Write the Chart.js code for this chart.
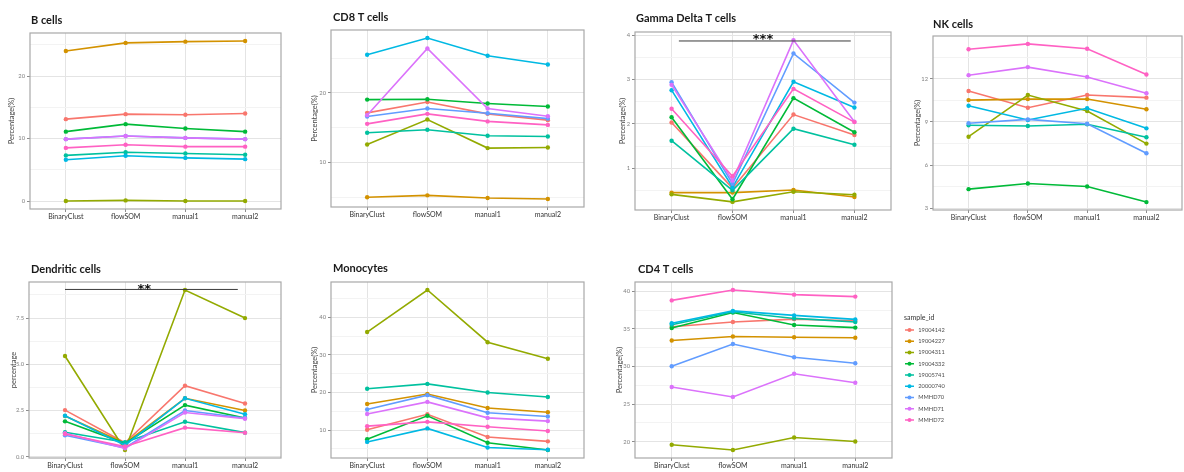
<!DOCTYPE html>
<html>
<head>
<meta charset="utf-8">
<script src="https://cdn.jsdelivr.net/npm/chart.js@4.4.1/dist/chart.umd.min.js"></script>
<style>
  html, body { margin: 0; padding: 0; background: #fff; width: 1184px; height: 472px; overflow: hidden; position: relative; }
  canvas { position: absolute; }
</style>
</head>
<body>
<script>
// Methods compared on the x axis
const categories = ['BinaryClust', 'flowSOM', 'manual1', 'manual2'];
const sampleIds = ['19004142', '19004227', '19004311', '19004332', '19005741', '20000740', 'MMHD70', 'MMHD71', 'MMHD72'];
const sampleColors = ['#F8766D', '#D39200', '#93AA00', '#00BA38', '#00C19F', '#00B9E3', '#619CFF', '#DB72FB', '#FF61C3'];

// Percentages per sample (rows follow sampleIds, columns follow categories)
const bCells = [
  [13.1, 13.9, 13.8, 14.0],
  [24.0, 25.3, 25.5, 25.6],
  [0.0, 0.1, 0.0, 0.0],
  [11.1, 12.3, 11.6, 11.1],
  [7.3, 7.8, 7.6, 7.4],
  [6.6, 7.25, 6.9, 6.7],
  [9.9, 10.4, 10.1, 9.9],
  [9.9, 10.4, 10.1, 9.9],
  [8.5, 9.0, 8.7, 8.7]
];
const cd8Cells = [
  [17.13, 18.7, 16.99, 16.08],
  [4.98, 5.26, 4.88, 4.74],
  [12.58, 16.17, 12.06, 12.15],
  [19.04, 19.09, 18.47, 18.04],
  [14.26, 14.69, 13.83, 13.73],
  [25.5, 27.9, 25.36, 24.1],
  [16.6, 17.75, 17.08, 16.3],
  [16.8, 26.4, 17.75, 16.65],
  [15.55, 16.99, 15.9, 15.4]
];
const gdCells = [
  [2.03, 0.55, 2.21, 1.75],
  [0.45, 0.45, 0.51, 0.35],
  [0.41, 0.24, 0.47, 0.40],
  [2.15, 0.30, 2.58, 1.81],
  [1.62, 0.50, 1.89, 1.53],
  [2.76, 0.57, 2.95, 2.37],
  [2.94, 0.65, 3.59, 2.48],
  [2.88, 0.72, 3.89, 2.05],
  [2.34, 0.82, 2.79, 2.04]
];
const nkCells = [
  [11.15, 9.99, 10.87, 10.69],
  [10.52, 10.59, 10.59, 9.88],
  [7.98, 10.87, 9.76, 7.5],
  [4.34, 4.73, 4.52, 3.44],
  [8.77, 8.72, 8.84, 7.94],
  [10.13, 9.14, 9.95, 8.56],
  [8.91, 9.18, 8.88, 6.83],
  [12.25, 12.81, 12.12, 11.0],
  [14.05, 14.42, 14.08, 12.3]
];
const dcCells = [
  [2.52, 0.75, 3.84, 2.88],
  [2.2, 0.72, 3.16, 2.5],
  [5.45, 0.36, 9.02, 7.5],
  [1.91, 0.72, 2.79, 2.09],
  [1.32, 0.78, 1.89, 1.3],
  [2.21, 0.62, 3.16, 2.3],
  [1.16, 0.48, 2.5, 2.09],
  [1.27, 0.45, 2.39, 2.05],
  [1.23, 0.55, 1.57, 1.29]
];
const monoCells = [
  [10.1, 14.2, 8.15, 7.0],
  [16.95, 19.6, 15.9, 14.75],
  [36.1, 47.3, 33.4, 29.0],
  [7.55, 13.8, 6.65, 4.7],
  [21.0, 22.3, 20.0, 18.8],
  [6.85, 10.45, 5.35, 4.75],
  [15.5, 19.3, 14.6, 13.6],
  [14.3, 17.5, 13.25, 12.4],
  [11.05, 12.2, 10.9, 9.75]
];
const cd4Cells = [
  [35.3, 35.92, 36.3, 36.1],
  [33.46, 33.99, 33.9, 33.82],
  [19.6, 18.9, 20.57, 20.04],
  [35.13, 37.19, 35.53, 35.18],
  [35.57, 37.28, 36.4, 35.92],
  [35.75, 37.4, 36.8, 36.27],
  [30.04, 33.0, 31.23, 30.44],
  [27.28, 25.96, 29.04, 27.85],
  [38.8, 40.18, 39.56, 39.3]
];

// Y tick labels per panel
const bTicks = ['0', '10', '20'];
const cd8Ticks = ['10', '20'];
const gdTicks = ['1', '2', '3', '4'];
const nkTicks = ['3', '6', '9', '12'];
const dcTicks = ['0.0', '2.5', '5.0', '7.5'];
const monoTicks = ['10', '20', '30', '40'];
const cd4Ticks = ['20', '25', '30', '35', '40'];

// Significance brackets (x in category index units, y in data units)
const gdSignif = { from: 0.12, to: 2.94, at: 3.87, text: '***', mid: 1.5, lift: 5.7 };
const dcSignif = { from: 0.0, to: 2.88, at: 9.05, text: '**', mid: 1.32, lift: 4 };

// Panel placement on the page: plot box [left, top, right, bottom], title anchor, axis-title gap
const panels = [
  { title: 'B cells', values: bCells, ticks: bTicks, yLabel: 'Percentage(%)', box: [30, 33, 285, 209], head: [31, 20], gap: 18 },
  { title: 'CD8 T cells', values: cd8Cells, ticks: cd8Ticks, yLabel: 'Percentage(%)', box: [331, 30, 588, 207], head: [333, 17], gap: 16 },
  { title: 'Gamma Delta T cells', values: gdCells, ticks: gdTicks, yLabel: 'Percentage(%)', box: [635, 32, 895, 210], head: [636, 18.5], gap: 12, signif: gdSignif },
  { title: 'NK cells', values: nkCells, ticks: nkTicks, yLabel: 'Percentage(%)', box: [933, 36, 1186, 210], head: [933, 24], gap: 15 },
  { title: 'Dendritic cells', values: dcCells, ticks: dcTicks, yLabel: 'percentage', box: [29, 282, 285, 458], head: [31, 269.5], gap: 15, signif: dcSignif },
  { title: 'Monocytes', values: monoCells, ticks: monoTicks, yLabel: 'Percentage(%)', box: [331, 282, 588, 458], head: [333, 268.5], gap: 16 },
  { title: 'CD4 T cells', values: cd4Cells, ticks: cd4Ticks, yLabel: 'Percentage(%)', box: [635, 282, 892, 458], head: [638, 269.5], gap: 15, legend: [904, 318] }
];

const MAJOR_GRID = '#e4e4e4';
const MINOR_GRID = '#f3f3f3';
const TICK_MARK = '#8c8c8c';
const FONT = 'Lato';

// Panel frame, title, significance bracket and the shared legend
function makeDecor(p, ox, oy) {
  return {
    id: 'decor',
    afterDraw(chart) {
      const { ctx, chartArea: a, scales } = chart;
      ctx.save();
      ctx.strokeStyle = '#a8a8a8';
      ctx.lineWidth = 1.2;
      ctx.strokeRect(a.left, a.top, a.right - a.left, a.bottom - a.top);

      ctx.fillStyle = '#1a1a1a';
      ctx.font = `bold 11px ${FONT}`;
      ctx.textAlign = 'left';
      ctx.textBaseline = 'middle';
      ctx.fillText(p.title, p.head[0] - ox, p.head[1] - oy);

      if (p.signif) {
        const s = p.signif;
        const y = scales.y.getPixelForValue(s.at);
        ctx.strokeStyle = '#3a3a3a';
        ctx.lineWidth = 1;
        ctx.beginPath();
        ctx.moveTo(scales.x.getPixelForValue(s.from), y);
        ctx.lineTo(scales.x.getPixelForValue(s.to), y);
        ctx.stroke();
        ctx.fillStyle = '#111';
        ctx.font = 'bold 13px "DejaVu Sans"';
        ctx.textAlign = 'center';
        ctx.textBaseline = 'alphabetic';
        ctx.fillText(s.text, scales.x.getPixelForValue(s.mid), y - s.lift + 7.6);
      }

      if (p.legend) {
        const x0 = p.legend[0] - ox, y0 = p.legend[1] - oy;
        ctx.textAlign = 'left';
        ctx.textBaseline = 'middle';
        ctx.fillStyle = '#333';
        ctx.font = `7px ${FONT}`;
        ctx.fillText('sample_id', x0, y0);
        ctx.font = `5.7px ${FONT}`;
        sampleIds.forEach((id, i) => {
          const y = y0 + 12 + i * 11.25;
          ctx.strokeStyle = sampleColors[i];
          ctx.lineWidth = 1.5;
          ctx.beginPath();
          ctx.moveTo(x0 + 1, y);
          ctx.lineTo(x0 + 10, y);
          ctx.stroke();
          ctx.fillStyle = sampleColors[i];
          ctx.beginPath();
          ctx.arc(x0 + 5.5, y, 2, 0, Math.PI * 2);
          ctx.fill();
          ctx.fillStyle = '#4d4d4d';
          ctx.fillText(id, x0 + 14.3, y);
        });
      }
      ctx.restore();
    }
  };
}

function buildPanel(p) {
  const [l, t, r, b] = p.box;
  const yw = Math.round(p.gap + 4.5);
  const topPad = 30, xh = 20;
  const rightPad = p.legend ? 70 : 0;
  const left = l - yw, top = t - topPad;
  const width = yw + (r - l) + rightPad;
  const height = topPad + (b - t) + xh;

  const canvas = document.createElement('canvas');
  canvas.width = width;
  canvas.height = height;
  canvas.style.left = left + 'px';
  canvas.style.top = top + 'px';
  canvas.style.width = width + 'px';
  canvas.style.height = height + 'px';
  document.body.appendChild(canvas);

  // ggplot-style 5% expansion around the data
  const all = p.values.flat();
  const dMin = Math.min(...all), dMax = Math.max(...all);
  const pad = (dMax - dMin) * 0.05;
  const yMin = dMin - pad, yMax = dMax + pad;

  const major = p.ticks.map(Number);
  const step = major[1] - major[0];
  const minor = [];
  for (let v = major[0] - step / 2; v <= yMax + 1e-9; v += step) {
    if (v >= yMin) minor.push(+v.toFixed(4));
  }
  const yTickObjs = major.map((v, i) => ({ value: v, label: p.ticks[i], minor: false }))
    .concat(minor.map(v => ({ value: v, label: '', minor: true })))
    .sort((a, c) => a.value - c.value);

  const datasets = p.values.map((row, i) => ({
    label: sampleIds[i],
    data: row.map((v, k) => ({ x: k, y: v })),
    borderColor: sampleColors[i],
    backgroundColor: sampleColors[i],
    pointBackgroundColor: sampleColors[i],
    pointBorderWidth: 0,
    pointRadius: 2.2,
    borderWidth: 1.6,
    tension: 0,
    order: sampleIds.length - i
  }));

  new Chart(canvas, {
    type: 'line',
    data: { datasets },
    options: {
      responsive: false,
      animation: false,
      devicePixelRatio: 1,
      layout: { padding: { top: topPad, right: rightPad, left: 0, bottom: 0 } },
      plugins: { legend: { display: false }, tooltip: { enabled: false }, title: { display: false } },
      scales: {
        x: {
          type: 'linear',
          min: -0.6,
          max: categories.length - 1 + 0.6,
          afterBuildTicks: s => { s.ticks = categories.map((c, k) => ({ value: k })); },
          afterFit: s => { s.height = xh; },
          border: { display: false },
          grid: { color: MAJOR_GRID, tickColor: TICK_MARK, tickLength: 3, lineWidth: 1 },
          ticks: {
            autoSkip: false,
            maxRotation: 0,
            padding: 1,
            color: '#333',
            font: { family: FONT, size: 7 },
            callback: v => categories[v]
          }
        },
        y: {
          type: 'linear',
          min: yMin,
          max: yMax,
          bounds: 'data',
          afterBuildTicks: s => { s.ticks = yTickObjs.map(o => ({ value: o.value, minor: o.minor, txt: o.label })); },
          afterFit: s => { s.width = yw; },
          border: { display: false },
          grid: {
            color: c => (c.tick && c.tick.minor ? MINOR_GRID : MAJOR_GRID),
            tickColor: c => (c.tick && c.tick.minor ? 'rgba(0,0,0,0)' : TICK_MARK),
            tickLength: 3,
            lineWidth: 1
          },
          ticks: {
            autoSkip: false,
            padding: 2,
            color: '#808080',
            font: { family: FONT, size: 5.8 },
            callback: (v, i) => yTickObjs[i].label
          },
          title: {
            display: true,
            text: p.yLabel,
            color: '#444',
            font: { family: FONT, size: 7.5 },
            padding: { top: 0, bottom: 0 }
          }
        }
      }
    },
    plugins: [makeDecor(p, left, top)]
  });
}

panels.forEach(buildPanel);
</script>
</body>
</html>
